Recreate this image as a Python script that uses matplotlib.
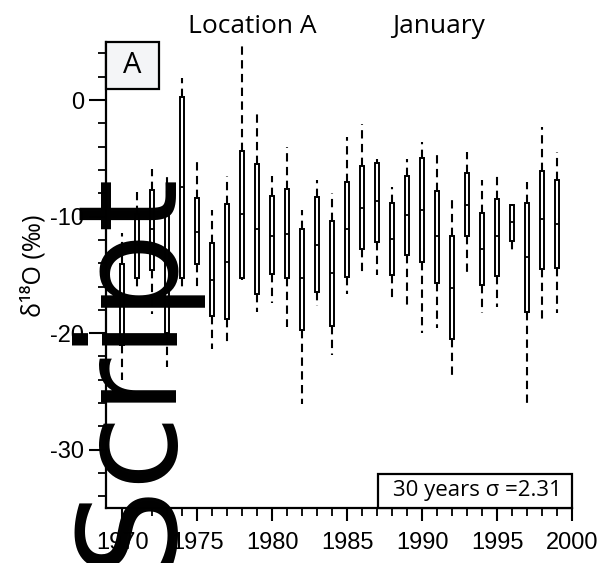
import numpy as np
import matplotlib
matplotlib.use("Agg")
import matplotlib.pyplot as plt
from matplotlib.patches import Rectangle

plt.rcParams["axes.unicode_minus"] = False

# per-year January d18O statistics
years = list(range(1970, 2000))
whis_hi = [-11.4, -7.9, -5.9, -6.3, 1.9, -5.2, -9.4, -6.5, 4.9, -1.1,
           -6.5, -4.0, -9.4, -6.9, -8.0, -3.2, -2.1, -5.1, -7.5, -5.1,
           -3.6, -4.3, -8.4, -4.5, -6.9, -6.3, -8.9, -7.0, -2.3, -4.5]
q3 = [-14.1, -9.8, -7.7, -9.7, 0.3, -8.4, -12.3, -8.9, -4.4, -5.5,
      -8.2, -7.6, -11.1, -8.3, -10.4, -7.0, -5.7, -5.4, -8.8, -6.5,
      -5.0, -7.8, -11.7, -6.3, -9.7, -8.5, -9.0, -8.8, -6.1, -6.9]
median = [-17.6, -12.4, -11.1, -14.0, -7.5, -11.3, -15.4, -13.9, -9.8, -11.1,
          -11.7, -11.5, -15.3, -12.4, -14.8, -11.1, -9.3, -8.7, -11.9, -9.9,
          -9.4, -11.7, -16.1, -9.0, -12.8, -11.7, -10.5, -13.5, -10.2, -10.6]
q1 = [-21.0, -15.3, -14.6, -20.0, -15.3, -14.1, -18.5, -18.8, -15.3, -16.6,
      -14.9, -15.3, -19.7, -16.5, -19.4, -15.2, -12.8, -12.2, -15.0, -13.3,
      -13.9, -15.7, -20.5, -11.7, -15.9, -15.1, -12.1, -18.2, -14.5, -14.4]
whis_lo = [-24.0, -16.1, -18.4, -22.9, -16.0, -16.0, -21.4, -21.0, -15.4, -18.2,
           -17.4, -19.5, -26.1, -17.7, -21.9, -16.6, -15.0, -15.0, -17.1, -17.7,
           -20.0, -19.6, -23.8, -14.9, -18.3, -17.8, -12.9, -26.3, -18.9, -18.3]

title_site = "Location A"
title_month = "January"
panel_tag = "A"
sigma_note = "30 years \u03c3 =2.31"
ylabel = "\u03b4\u00b9\u2078O (\u2030)"
watermark = "Script"

stats = []
for i, yr in enumerate(years):
    stats.append({"med": median[i], "q1": q1[i], "q3": q3[i],
                  "whislo": whis_lo[i], "whishi": whis_hi[i],
                  "fliers": [], "label": str(yr)})

fig = plt.figure(figsize=(5.98, 5.63), dpi=100)
ax = fig.add_axes([0.1773, 0.0977, 0.7793, 0.8282])

ax.bxp(stats, positions=years, widths=0.32, showfliers=False, showcaps=False,
       patch_artist=True, manage_ticks=False,
       boxprops=dict(facecolor="white", edgecolor="black", linewidth=1.4),
       medianprops=dict(color="black", linewidth=1.3),
       whiskerprops=dict(color="black", linewidth=1.5, linestyle=(0, (4, 2.6))))

ax.set_xlim(1968.93, 2000)
ax.set_ylim(-35, 5)
for s in ("top", "right"):
    ax.spines[s].set_visible(False)
for s in ("left", "bottom"):
    ax.spines[s].set_linewidth(1.6)

tick_family = ["Liberation Sans Narrow", "Liberation Sans"]
ax.set_xticks(range(1970, 2001, 5))
ax.set_xticks(range(1971, 2000), minor=True)
ax.set_yticks([-30, -20, -10, 0])
ax.set_yticks(np.arange(-34, 5, 2), minor=True)
ax.tick_params(axis="both", which="major", direction="out", width=1.5, color="black")
ax.tick_params(axis="y", which="major", length=12, pad=4)
ax.tick_params(axis="x", which="major", length=9.5, pad=8)
ax.tick_params(axis="both", which="minor", direction="out", width=1.3, length=5.5)
for lab in ax.get_xticklabels() + ax.get_yticklabels():
    lab.set_fontfamily(tick_family)
    lab.set_fontsize(17)

ax.set_ylabel(ylabel, family=["Open Sans", "DejaVu Sans"], fontsize=18)
ax.yaxis.set_label_coords(-0.128, 0.52)

# panel tag box
ax.add_patch(Rectangle((0, 0.8985), 0.1137, 0.1015, transform=ax.transAxes,
                       facecolor="#f4f5f7", edgecolor="black", linewidth=1.6,
                       clip_on=False, zorder=5))
ax.text(0.0568, 0.949, panel_tag, transform=ax.transAxes, ha="center", va="center",
        family="Open Sans", fontsize=21, zorder=6)

# sigma note box
ax.add_patch(Rectangle((0.5837, 0), 0.4163, 0.0729, transform=ax.transAxes,
                       facecolor="white", edgecolor="black", linewidth=1.6,
                       clip_on=False, zorder=5))
ax.text(0.6159, 0.037, sigma_note, transform=ax.transAxes, ha="left", va="center",
        family="Open Sans", fontsize=16, zorder=6)

fig.text(252 / 598, 0.9414, title_site, ha="center", va="baseline",
         family="Open Sans", fontsize=19)
fig.text(439 / 598, 0.9414, title_month, ha="center", va="baseline",
         family="Open Sans", fontsize=19)

fig.text(168 / 598, -4 / 563, watermark, rotation=90, rotation_mode="anchor",
         ha="left", va="baseline", family="DejaVu Sans", fontsize=99,
         color="black", zorder=10)

fig.savefig("out.png", dpi=100)
